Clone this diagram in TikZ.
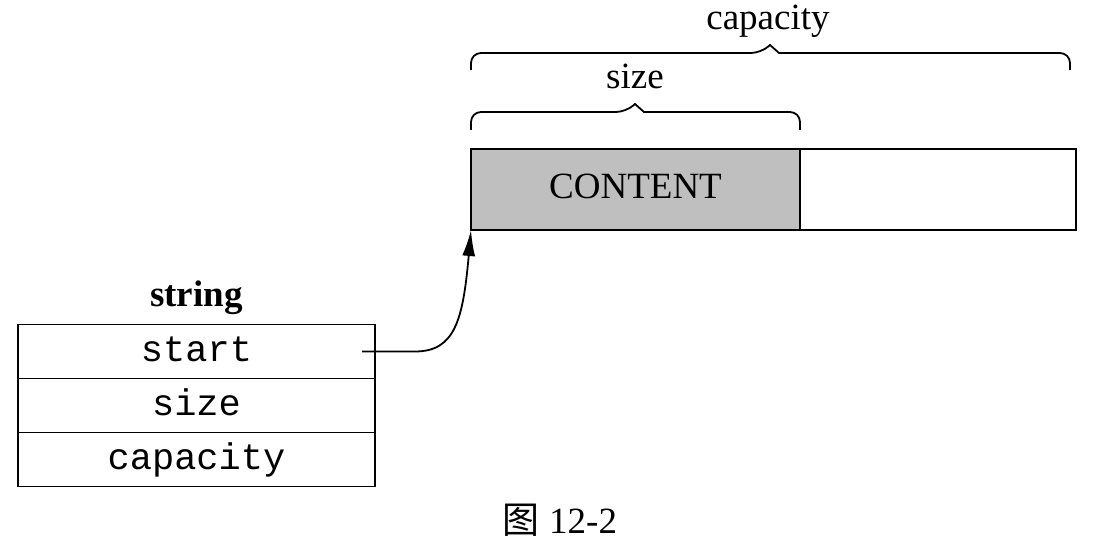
\documentclass[tikz,border=0pt]{standalone}
\usepackage{fontspec}
\setmainfont{Liberation Serif}
\setmonofont{Liberation Mono}
\newfontfamily\cjk{Noto Sans CJK SC}
\usetikzlibrary{arrows.meta,calc}
\begin{document}
\begin{tikzpicture}[x=1pt,y=-1pt,
  font=\fontsize{37}{44}\selectfont,
  line width=1.8pt,
  cell/.style={draw, minimum width=357pt, minimum height=54pt, inner sep=0pt, outer sep=0pt,
    text height=24pt, text depth=5pt, font=\fontsize{37}{44}\selectfont\ttfamily},
  buf/.style={draw, minimum height=81pt, inner sep=0pt, outer sep=0pt, text height=24pt, text depth=5pt},
  bracepath/.style={line width=1.8pt, rounded corners=10pt},
  lbl/.style={anchor=base, inner sep=0pt}]
\useasboundingbox (0,0) rectangle (1098,548);
% buffer
\node[buf, fill=black!25, minimum width=329pt] (content) at (635.5,189.5) {CONTENT};
\node[buf, minimum width=276pt, anchor=west] (free) at (content.east) {};
% braces
\draw[bracepath] (471,70) |- (761,53) [sharp corners] -- (770,45) -- (779,53) [rounded corners=10pt] -| (1070,70);
\draw[bracepath] (471,130) |- (626,112) [sharp corners] -- (635,104) -- (644,112) [rounded corners=10pt] -| (800,130);
\node[lbl] (caplbl) at (768,30) {capacity};
\node[lbl] (sizelbl) at (635,89) {size};
% string struct
\node[lbl, font=\fontsize{37}{44}\selectfont\bfseries] (title) at (196.5,306) {string};
\node[cell] (start) at (196.5,351.5) {start};
\node[cell, anchor=north] (sizef) at (start.south) {size};
\node[cell, anchor=north] (capf) at (sizef.south) {capacity};
% pointer
\coordinate (p) at (362,351.5);
\draw[-{Latex[length=26pt,width=13pt]}] (p) -- (415,351.5) .. controls (455,351.5) and (463,320) .. (content.south west);
% caption
\node[lbl] (caption) at (560,533) {{\cjk 图} 12-2};
\end{tikzpicture}
\end{document}
